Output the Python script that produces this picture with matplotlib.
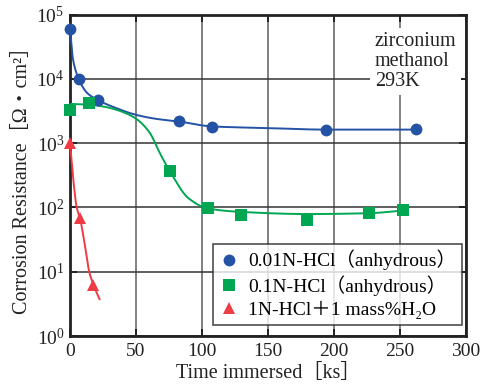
import numpy as np
import matplotlib
matplotlib.use("Agg")
import matplotlib.pyplot as plt

plt.rcParams['font.family'] = ['Liberation Serif', 'DejaVu Serif', 'Noto Sans CJK JP']
plt.rcParams['mathtext.fontset'] = 'custom'
plt.rcParams['mathtext.rm'] = 'Liberation Serif'

# measured points: immersion time [ks], corrosion resistance [Ohm cm2]
t_a = [0, 6.8, 21, 82.6, 107.3, 193.7, 262]
r_a = [6.0e4, 9.8e3, 4.7e3, 2.17e3, 1.8e3, 1.6e3, 1.67e3]
t_b = [0, 14.2, 75.8, 104.4, 129.5, 180, 227, 252.5]
r_b = [3.26e3, 4.2e3, 366, 97, 75, 64, 83, 90]
t_c = [0, 7.6, 17.7]
r_c = [1000, 68, 6.3]

# hand-drawn trend lines (time [ks], log10 resistance)
fit_a_t = [0, 2.3, 6.8, 13, 21, 35, 50, 65, 82.6, 107.3, 150, 194, 262]
fit_a_l = [4.78, 4.30, 3.99, 3.78, 3.67, 3.545, 3.44, 3.378, 3.336, 3.26, 3.234, 3.21, 3.21]
fit_b_t = [0, 13, 25, 35, 45, 52, 60.6, 68, 75.8, 90, 104.3, 129.5, 180, 227, 252]
fit_b_l = [3.61, 3.60, 3.57, 3.52, 3.44, 3.35, 3.156, 2.85, 2.558, 2.14, 1.985, 1.93, 1.897, 1.91, 1.95]
fit_c_t = [0, 2.5, 5.1, 7.6, 10.6, 14.6, 17.7, 22.7]
fit_c_l = [3.0, 2.43, 2.0, 1.83, 1.5, 1.0, 0.80, 0.56]

labels = ['0.01N-HCl（anhydrous）', '0.1N-HCl（anhydrous）', '1N-HCl＋1 mass%H₂O']
colors = ['#2453a6', '#00a651', '#ee3b44']
markers = ['o', 's', '^']


def pchip(x, y, xs):
    x = np.asarray(x, float)
    y = np.asarray(y, float)
    h = np.diff(x)
    d = np.diff(y) / h
    m = np.zeros_like(y)
    for k in range(1, len(x) - 1):
        if d[k - 1] * d[k] > 0:
            w1 = 2 * h[k] + h[k - 1]
            w2 = h[k] + 2 * h[k - 1]
            m[k] = (w1 + w2) / (w1 / d[k - 1] + w2 / d[k])
    m[0] = d[0]
    m[-1] = d[-1]
    idx = np.clip(np.searchsorted(x, xs) - 1, 0, len(x) - 2)
    hh = h[idx]
    s = (xs - x[idx]) / hh
    h00 = 2 * s**3 - 3 * s**2 + 1
    h10 = s**3 - 2 * s**2 + s
    h01 = -2 * s**3 + 3 * s**2
    h11 = s**3 - s**2
    return h00 * y[idx] + h10 * hh * m[idx] + h01 * y[idx + 1] + h11 * hh * m[idx + 1]


fig = plt.figure(figsize=(4.8, 3.88), dpi=100)
ax = fig.add_axes([0.1458, 0.134, 0.8245, 0.8286])
ax.set_yscale('log')
ax.set_xlim(0, 300)
ax.set_ylim(1, 1e5)

for ft, fl, col in [(fit_a_t, fit_a_l, colors[0]),
                    (fit_b_t, fit_b_l, colors[1]),
                    (fit_c_t, fit_c_l, colors[2])]:
    xs = np.linspace(ft[0], ft[-1], 400)
    ax.plot(xs, 10 ** pchip(ft, fl, xs), color=col, lw=1.4, zorder=3,
            solid_capstyle='butt', clip_on=False)

ms = [8.5, 9, 9]
for (t, r), lab, col, mk, s in zip([(t_a, r_a), (t_b, r_b), (t_c, r_c)],
                                   labels, colors, markers, ms):
    ax.plot(t, r, linestyle='none', marker=mk, ms=s, color=col,
            markeredgewidth=0, label=lab, zorder=4, clip_on=False)

ax.set_xticks([0, 50, 100, 150, 200, 250, 300])
ax.set_yticks([1, 10, 100, 1e3, 1e4, 1e5])
ax.yaxis.set_minor_locator(matplotlib.ticker.NullLocator())
ax.set_yticklabels([r'$\mathdefault{10^{%d}}$' % k for k in range(6)])
ax.xaxis.grid(True, color='#808080', lw=1.4)
ax.yaxis.grid(True, color='#333333', lw=1.1)
ax.set_axisbelow(True)
ax.tick_params(direction='in', length=5, width=1.4, top=True, right=True,
               labelsize=14, colors='#222222', pad=4)
ax.tick_params(axis='x', pad=5)
for sp in ax.spines.values():
    sp.set_linewidth(2)
    sp.set_color('#222222')

ax.set_xlabel('Time immersed［ks］', fontsize=14.5, labelpad=3, color='#222222')
ax.set_ylabel('Corrosion Resistance［Ω・cm²］', fontsize=14.5, labelpad=3, color='#222222')

ax.text(0.77, 0.945, 'zirconium\nmethanol\n293K', transform=ax.transAxes,
        ha='left', va='top', fontsize=14.5, linespacing=1.06, color='#222222',
        bbox=dict(facecolor='white', edgecolor='none', pad=3), zorder=5)

leg = ax.legend(loc='lower right', bbox_to_anchor=(0.99, 0.035), fontsize=14,
                frameon=True, fancybox=False, handlelength=1.0, handletextpad=0.5,
                borderpad=0.3, labelspacing=0.25, borderaxespad=0)
leg.get_frame().set_edgecolor('#222222')
leg.get_frame().set_linewidth(1.2)
leg.set_zorder(6)

fig.savefig('out.png', dpi=100)
